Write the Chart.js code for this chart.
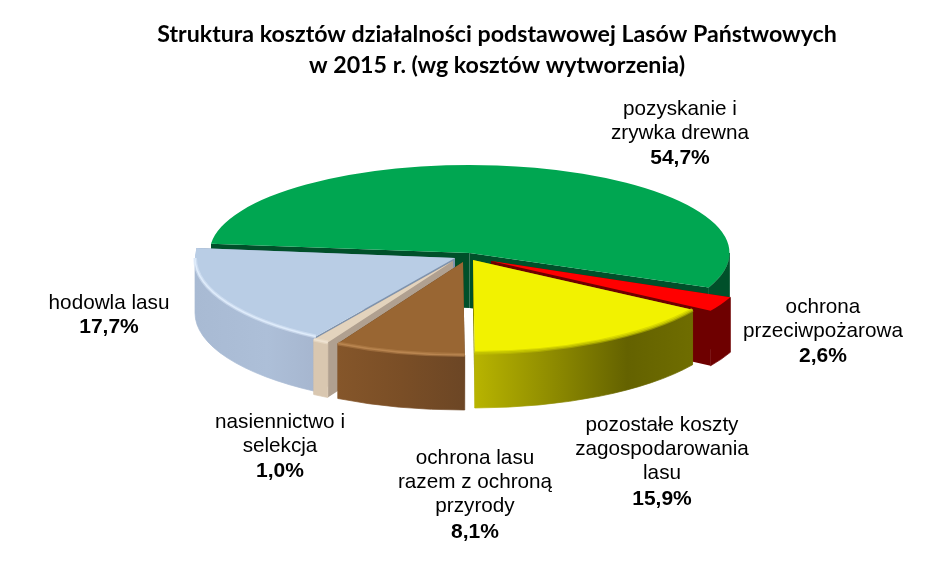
<!DOCTYPE html>
<html>
<head>
<meta charset="utf-8">
<title>Struktura kosztów</title>
<style>
html, body { margin: 0; padding: 0; background: #fff; }
canvas { display: block; }
</style>
<script src="https://cdn.jsdelivr.net/npm/chart.js@4"></script>
</head>
<body>
<canvas id="costChart" width="952" height="574"></canvas>
<script>
// data
var titleLines = ['Struktura kosztów działalności podstawowej Lasów Państwowych', 'w 2015 r. (wg kosztów wytworzenia)'];
var categories = [
    ['pozyskanie i', 'zrywka drewna'],
    ['ochrona', 'przeciwpożarowa'],
    ['pozostałe koszty', 'zagospodarowania', 'lasu'],
    ['ochrona lasu', 'razem z ochroną', 'przyrody'],
    ['nasiennictwo i', 'selekcja'],
    ['hodowla lasu']
];
var shares = [54.7, 2.6, 15.9, 8.1, 1.0, 17.7];

// look of the slices, same order as the data
var topColors = ['#00a651', '#ff0000', '#f2f200', '#996633', '#e3d3bd', '#b9cde5'];
var cutColors = ['#00502a', '#6e0000', '#8a8a00', '#5f3d1c', '#b0a090', '#7f93ad'];
var rimColors = [null, null, '#c4c400', '#b98550', '#efe3d2', '#dfecfb'];
var sideStops = [
    [[0, '#00502a'], [1, '#00502a']],
    [[0, '#6e0000'], [1, '#6e0000']],
    [[0, '#b8b400'], [0.35, '#8f8c00'], [0.7, '#646200'], [1, '#6f6d00']],
    [[0, '#85562a'], [0.5, '#7a4e26'], [1, '#6c4625']],
    [[0, '#d9c7b0'], [1, '#d9c7b0']],
    [[0, '#a8bad3'], [0.6, '#adbfd8'], [1, '#a6b6cf']]
];
// where each exploded slice sits on the page
var centers = [[469.5, 253], [491, 261], [473, 260], [463, 262], [453, 261], [455, 258]];
var flatness = [88 / 260, 93 / 260, 93 / 260, 93 / 260, 93 / 260, 93 / 260];
var drawOrder = [0, 1, 5, 4, 2, 3];
var depth = 55;

var labelSpots = [[680, 109], [823, 307], [662, 425], [475, 458], [280, 422], [109, 303]];

function sideFace(ctx, i, arc) {
    var c = centers[i], r = arc.outerRadius, ry = r * flatness[i];
    var a0 = arc.startAngle, a1 = arc.endAngle;

    // the two straight cut faces
    [a0, a1].forEach(function(a) {
        var px = c[0] + Math.cos(a) * r, py = c[1] + Math.sin(a) * ry;
        ctx.beginPath();
        ctx.moveTo(c[0], c[1]);
        ctx.lineTo(px, py);
        ctx.lineTo(px, py + depth);
        ctx.lineTo(c[0], c[1] + depth);
        ctx.closePath();
        ctx.fillStyle = cutColors[i];
        ctx.fill();
    });

    // the round outer wall, only the part that faces us
    var from = Math.max(a0, 0), to = Math.min(a1, Math.PI);
    if (to > from) {
        var x0 = c[0] + Math.cos(to) * r, x1 = c[0] + Math.cos(from) * r;
        var g = ctx.createLinearGradient(x0, 0, x1, 0);
        sideStops[i].forEach(function(s) { g.addColorStop(s[0], s[1]); });
        ctx.beginPath();
        ctx.ellipse(c[0], c[1], r, ry, 0, from, to);
        ctx.ellipse(c[0], c[1] + depth, r, ry, 0, to, from, true);
        ctx.closePath();
        ctx.fillStyle = g;
        ctx.strokeStyle = g;
        ctx.lineWidth = 0.7;
        ctx.fill();
        ctx.stroke();
    }
}

function topFace(ctx, i, arc, area) {
    var c = centers[i], r = arc.outerRadius;
    ctx.save();
    ctx.translate(c[0], c[1]);
    ctx.scale(1, flatness[i]);
    ctx.translate(-arc.x, -arc.y);
    arc.draw(ctx, area);
    ctx.restore();

    // soft bevel along the front edge
    if (rimColors[i]) {
        ctx.beginPath();
        ctx.ellipse(c[0], c[1], r, r * flatness[i], 0, Math.max(arc.startAngle, 0), Math.min(arc.endAngle, Math.PI));
        ctx.strokeStyle = rimColors[i];
        ctx.globalAlpha = 0.5;
        ctx.lineWidth = 4;
        ctx.stroke();
        ctx.globalAlpha = 1;
        ctx.lineWidth = 1.5;
        ctx.stroke();
    }
}

var tiltedPie = {
    id: 'tiltedPie',
    beforeDatasetsDraw: function(chart) {
        var ctx = chart.ctx;
        var arcs = chart.getDatasetMeta(0).data;
        drawOrder.forEach(function(i) {
            sideFace(ctx, i, arcs[i]);
            topFace(ctx, i, arcs[i], chart.chartArea);
        });
        return false;
    },
    afterDraw: function(chart) {
        var ctx = chart.ctx;
        ctx.save();
        ctx.textAlign = 'center';
        ctx.textBaseline = 'middle';
        ctx.fillStyle = '#000';
        categories.forEach(function(lines, i) {
            var spot = labelSpots[i];
            ctx.font = '20.7px "Liberation Sans"';
            lines.forEach(function(line, n) {
                ctx.fillText(line, spot[0], spot[1] + n * 24.3);
            });
            ctx.font = 'bold 21px "Liberation Sans"';
            ctx.fillText(shares[i].toFixed(1).replace('.', ',') + '%', spot[0], spot[1] + lines.length * 24.7);
        });
        ctx.restore();
    }
};

new Chart(document.getElementById('costChart').getContext('2d'), {
    type: 'pie',
    data: {
        labels: categories.map(function(c) { return c.join(' '); }),
        datasets: [{
            data: shares,
            backgroundColor: topColors,
            borderWidth: 0,
            hoverOffset: 0
        }]
    },
    options: {
        responsive: false,
        animation: false,
        events: [],
        rotation: -83.9,
        radius: 260,
        layout: { padding: { left: 42 } },
        plugins: {
            legend: { display: false },
            tooltip: { enabled: false },
            title: {
                display: true,
                fullSize: false,
                text: titleLines,
                color: '#000',
                font: { family: 'Lato', weight: 'bold', size: 23.2, lineHeight: 1.33 },
                padding: { top: 19, bottom: 0 }
            }
        }
    },
    plugins: [tiltedPie]
});
</script>
</body>
</html>
